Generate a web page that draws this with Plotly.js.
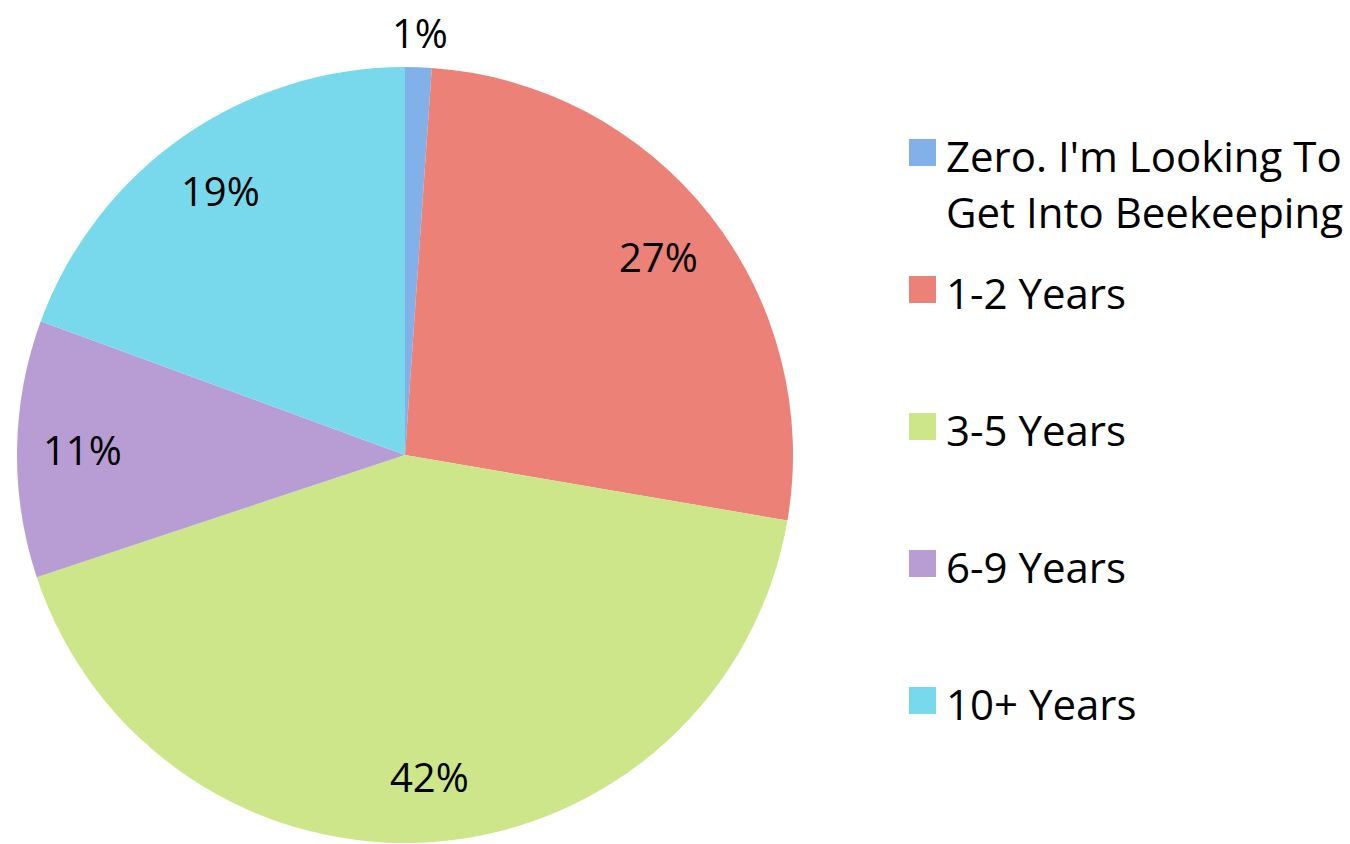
<!DOCTYPE html>
<html>
<head>
<meta charset="utf-8">
<script src="https://cdn.plot.ly/plotly-3.0.1.min.js"></script>
<style>
  html, body { margin: 0; padding: 0; background: #ffffff; }
  #chart { width: 1350px; height: 844px; }
</style>
</head>
<body>
<div id="chart"></div>
<script>
// Years of beekeeping experience, survey share per group
var categories = ["Zero. I'm Looking To<br>Get Into Beekeeping", "1-2 Years", "3-5 Years", "6-9 Years", "10+ Years"];
var shares = [1.1, 26.6, 42.2, 10.7, 19.4];
var sliceColors = ["#82B1EA", "#EC8178", "#CDE689", "#B89DD5", "#78D9EC"];

var W = 1350, H = 844;
var FONT = "'Open Sans', 'Noto Sans', sans-serif";

// pie geometry in pixels (centre and radius)
var cx = 405, cy = 455, R = 388;

var pie = {
    type: "pie",
    labels: categories,
    values: shares,
    sort: false,
    direction: "clockwise",
    rotation: 0,
    textinfo: "none",
    hoverinfo: "label+percent",
    showlegend: false,
    marker: { colors: sliceColors, line: { width: 0 } },
    domain: {
        x: [(cx - R) / W, (cx + R) / W],
        y: [(H - cy - R) / H, (H - cy + R) / H]
    }
};

// percentage labels, placed at the middle angle of each slice
var total = shares.reduce(function (a, b) { return a + b; }, 0);
var annotations = [];
var acc = 0;
shares.forEach(function (v) {
    var mid = (acc + v / 2) / total;
    acc += v;
    var theta = 2 * Math.PI * mid;
    var rf = v / total < 0.05 ? 1.09 : 0.83;
    var px = cx + rf * R * Math.sin(theta);
    var py = cy - rf * R * Math.cos(theta);
    annotations.push({
        xref: "paper", yref: "paper",
        x: px / W, y: 1 - py / H,
        xanchor: "center", yanchor: "middle",
        text: Math.round(v / total * 100) + "%",
        showarrow: false,
        font: { family: FONT, size: 40, color: "#000000" }
    });
});

// legend drawn by hand so the entries keep the wide even spacing
var shapes = [];
var legX = 909, legTop = 152.5, legStep = 137, box = 27, lineGap = 56;
categories.forEach(function (name, i) {
    var yc = legTop + i * legStep;
    shapes.push({
        type: "rect", xref: "paper", yref: "paper",
        x0: legX / W, x1: (legX + box) / W,
        y0: 1 - (yc + box / 2) / H, y1: 1 - (yc - box / 2) / H,
        fillcolor: sliceColors[i], line: { width: 0 }
    });
    name.split("<br>").forEach(function (line, j) {
        annotations.push({
            xref: "paper", yref: "paper",
            x: 944 / W, y: 1 - (yc + 3 + j * lineGap) / H,
            xanchor: "left", yanchor: "middle",
            text: line,
            showarrow: false,
            font: { family: FONT, size: 42, color: "#000000" }
        });
    });
});

var layout = {
    width: W,
    height: H,
    margin: { l: 0, r: 0, t: 0, b: 0 },
    paper_bgcolor: "#ffffff",
    plot_bgcolor: "#ffffff",
    showlegend: false,
    annotations: annotations,
    shapes: shapes
};

Plotly.newPlot("chart", [pie], layout, { displayModeBar: false, staticPlot: true });
</script>
</body>
</html>
